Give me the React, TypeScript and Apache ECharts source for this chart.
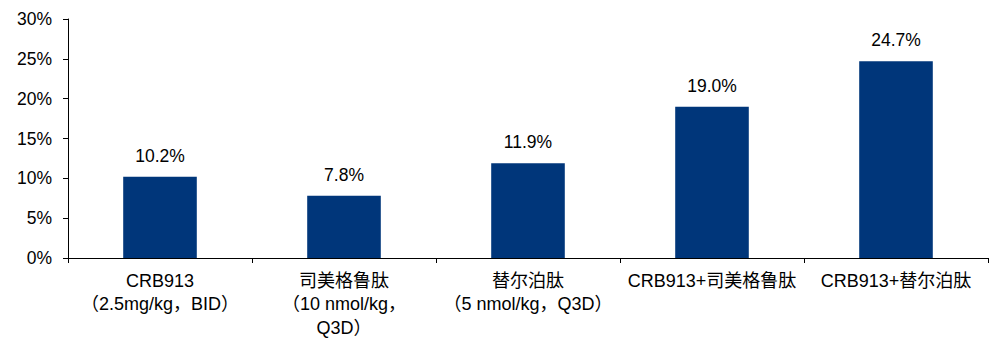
import React, { useEffect, useRef } from "react";
import * as echarts from "echarts";

// Treatment groups and their measured response (%)
const categories: string[] = [
  "CRB913\n（2.5mg/kg，BID）",
  "司美格鲁肽\n（10 nmol/kg，\nQ3D）",
  "替尔泊肽\n（5 nmol/kg，Q3D）",
  "CRB913+司美格鲁肽",
  "CRB913+替尔泊肽",
];
const values: number[] = [10.2, 7.8, 11.9, 19.0, 24.7];
const yTicks = { min: 0, max: 30, interval: 5 };

const FONT = "'Liberation Sans', Arial, 'Noto Sans CJK SC', sans-serif";

export default function App() {
  const ref = useRef<HTMLDivElement>(null);

  useEffect(() => {
    if (!ref.current) return;
    const chart = echarts.init(ref.current, undefined, { renderer: "svg" });
    chart.setOption({
      animation: false,
      backgroundColor: "#ffffff",
      grid: { left: 68, right: 1, top: 19, bottom: 85, containLabel: false },
      xAxis: {
        type: "category",
        data: categories,
        axisLine: { lineStyle: { color: "#000", width: 1 } },
        axisTick: { show: true, length: 5, lineStyle: { color: "#000" } },
        axisLabel: {
          interval: 0,
          color: "#000",
          fontSize: 18,
          fontFamily: FONT,
          lineHeight: 23.5,
          margin: 11,
        },
      },
      yAxis: {
        type: "value",
        min: yTicks.min,
        max: yTicks.max,
        interval: yTicks.interval,
        splitLine: { show: false },
        axisLine: { show: true, lineStyle: { color: "#000", width: 1 } },
        axisTick: { show: true, length: 5, lineStyle: { color: "#000" } },
        axisLabel: {
          color: "#000",
          fontSize: 17.5,
          fontFamily: FONT,
          margin: 16,
          formatter: (v: number) => `${v}%`,
        },
      },
      series: [
        {
          type: "bar",
          data: values,
          barWidth: "40%",
          itemStyle: { color: "#00367A" },
          label: {
            show: true,
            position: "top",
            distance: 12,
            color: "#000",
            fontSize: 17.5,
            fontFamily: FONT,
            formatter: (p: any) => `${Number(p.value).toFixed(1)}%`,
          },
        },
      ],
    });
    return () => chart.dispose();
  }, []);

  return (
    <div
      ref={ref}
      style={{ position: "fixed", left: 0, top: 0, width: 989, height: 343 }}
    />
  );
}
